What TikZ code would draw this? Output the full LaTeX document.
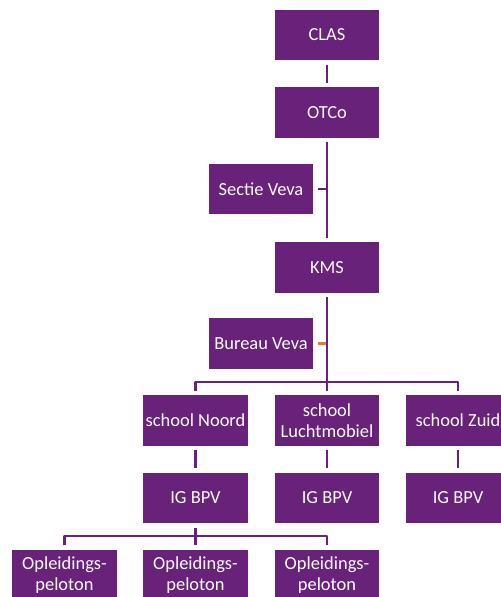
\documentclass[tikz,border=0pt]{standalone}
\usepackage{fontspec}
\setmainfont{Carlito}
\definecolor{paars}{RGB}{104,34,122}
\definecolor{oranje}{RGB}{230,125,50}
\begin{document}
\begin{tikzpicture}[x=1bp,y=-1bp,font=\fontsize{18.5}{20.5}\selectfont,line join=round,
	blok/.style={fill=paars,draw=white,line width=1.5bp,text=white,minimum width=106bp,minimum height=52bp,inner sep=0pt,align=center},
	lijn/.style={draw=paars,line width=2.5bp,shorten <=3bp,shorten >=3bp}]
			\def \xmax{501};
			\def \ymax{597};
			\useasboundingbox (0,0) rectangle (\xmax,\ymax);
			\clip (0,0) rectangle (\xmax,\ymax);
			% top
			\node[blok] (clas) at (327,35) {CLAS};
			\node[blok] (otco) at (327,112.5) {OTCo};
			\node[blok] (sectie) at (261,189) {Sectie Veva};
			\node[blok] (kms) at (327,267.5) {KMS};
			\node[blok] (bureau) at (261,343.5) {Bureau Veva};
			% schools
			\node[blok] (noord) at (195.5,420.5) {school Noord};
			\node[blok] (lucht) at (327,420.5) {school\\Luchtmobiel};
			\node[blok] (zuid) at (458,420.5) {school Zuid};
			\node[blok] (igA) at (195.5,498) {IG BPV};
			\node[blok] (igB) at (327,498) {IG BPV};
			\node[blok] (igC) at (458,498) {IG BPV};
			\node[blok] (oplA) at (64.5,575) {Opleidings-\\peloton};
			\node[blok] (oplB) at (195.5,575) {Opleidings-\\peloton};
			\node[blok] (oplC) at (327,575) {Opleidings-\\peloton};
			\coordinate (splits) at (327,382);
			\coordinate (splitsB) at (195.5,536);
			% lines
			\draw[lijn] (clas.south) -- (otco.north);
			\draw[lijn] (otco.south) -- (kms.north);
			\draw[lijn,shorten >=0pt] (sectie.east) -- (sectie.east -| otco.south);
			\draw[lijn,shorten >=0pt] (kms.south) -- (splits);
			\draw[lijn,draw=oranje,shorten >=1.5bp] (bureau.east) -- (bureau.east -| kms.south);
			\draw[lijn] (noord.north) |- (splits) -| (zuid.north);
			\draw[lijn,shorten <=0pt] (splits) -- (lucht.north);
			\draw[lijn] (noord.south) -- (igA.north);
			\draw[lijn] (lucht.south) -- (igB.north);
			\draw[lijn] (zuid.south) -- (igC.north);
			\draw[lijn,shorten >=0pt] (igA.south) -- (splitsB);
			\draw[lijn] (oplA.north) |- (splitsB) -| (oplC.north);
			\draw[lijn,shorten <=0pt] (splitsB) -- (oplB.north);
		\end{tikzpicture}
\end{document}
